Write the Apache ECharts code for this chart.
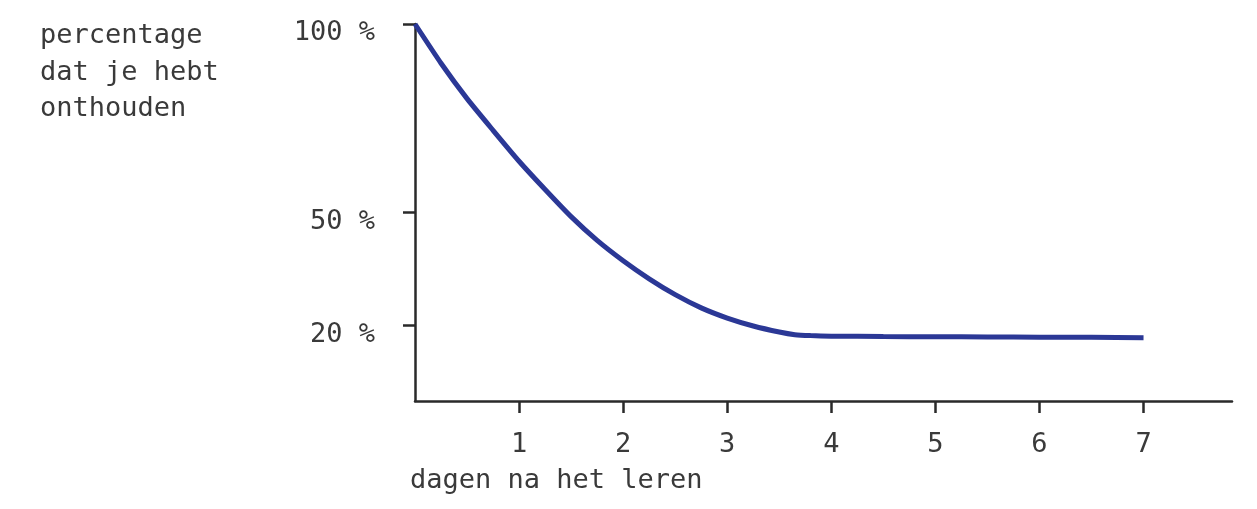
<!DOCTYPE html>
<html>
<head>
<meta charset="utf-8">
<script src="https://cdn.jsdelivr.net/npm/echarts@6/dist/echarts.min.js"></script>
<style>
  html, body { margin: 0; padding: 0; background: #fff; }
  #chart { width: 1257px; height: 509px; }
</style>
</head>
<body>
<div id="chart"></div>
<script>
// dagen na het leren
const days = [0, 0.25, 0.5, 0.75, 1, 1.25, 1.5, 1.75, 2, 2.25, 2.5, 2.75, 3, 3.25, 3.5, 3.65, 3.8, 4, 4.5, 5, 5.5, 6, 6.5, 7]
// percentage dat je hebt onthouden
const remembered = [100, 89.6, 80.2, 71.8, 63.6, 56.1, 48.9, 42.6, 37.2, 32.4, 28.2, 24.7, 22, 19.9, 18.3, 17.6, 17.35, 17.2, 17.1, 17.05, 17, 16.9, 16.9, 16.8]
// as-labels
const xTicks = [1, 2, 3, 4, 5, 6, 7]
const yTicks = [20, 50, 100]

const font = '"DejaVu Sans Mono", monospace'
const textColor = '#3a3a3a'
const axisColor = '#2a2a2a'

const chart = echarts.init(document.getElementById('chart'))
chart.setOption({
  animation: false,
  grid: { left: 415, top: 24, right: 25, bottom: 108 },
  xAxis: {
    type: 'value',
    min: 0,
    max: 7.85,
    axisLine: { lineStyle: { color: axisColor, width: 2.5 } },
    axisTick: { customValues: xTicks, length: 12, lineStyle: { color: axisColor, width: 2.5 } },
    axisLabel: {
      customValues: xTicks,
      margin: 30,
      color: textColor,
      fontFamily: font,
      fontSize: 27
    },
    splitLine: { show: false }
  },
  yAxis: {
    type: 'value',
    min: 0,
    max: 100,
    axisLine: { show: true, lineStyle: { color: axisColor, width: 2.5 } },
    axisTick: { show: true, customValues: yTicks, length: 12, lineStyle: { color: axisColor, width: 2.5 } },
    axisLabel: {
      customValues: yTicks,
      margin: 40,
      verticalAlign: 'top',
      lineHeight: 18,
      color: textColor,
      fontFamily: font,
      fontSize: 27,
      formatter: v => v + ' %'
    },
    splitLine: { show: false }
  },
  graphic: [
    {
      type: 'text',
      left: 40,
      top: 18,
      style: {
        text: 'percentage\ndat je hebt\nonthouden',
        fill: textColor,
        font: '27px ' + font,
        lineHeight: 36.5
      }
    },
    {
      type: 'text',
      left: 410,
      top: 467,
      style: {
        text: 'dagen na het leren',
        fill: textColor,
        font: '27px ' + font
      }
    }
  ],
  series: [{
    type: 'line',
    data: days.map((d, i) => [d, remembered[i]]),
    smooth: 0.2,
    showSymbol: false,
    lineStyle: { color: '#2b3896', width: 5 }
  }]
})
</script>
</body>
</html>
